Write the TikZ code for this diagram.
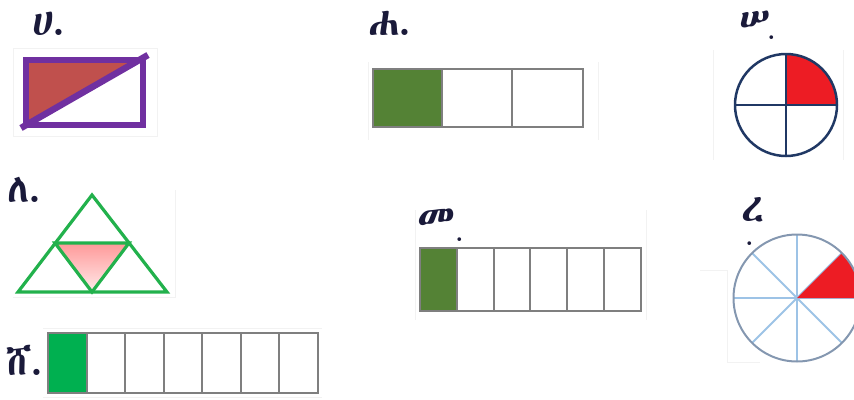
\documentclass[tikz,border=0pt]{standalone}
\usepackage{fontspec}
\IfFontExistsTF{Abyssinica SIL}{\newfontfamily\ethfont{Abyssinica SIL}}{%
  \IfFontExistsTF{FreeSerif}{\newfontfamily\ethfont{FreeSerif}}{\newfontfamily\ethfont{DejaVu Sans}}}
\definecolor{purp}{HTML}{7030A0}
\definecolor{brick}{HTML}{C0504D}
\definecolor{dkgreen}{HTML}{548235}
\definecolor{brgreen}{HTML}{00B050}
\definecolor{trigreen}{HTML}{22B14C}
\definecolor{barline}{HTML}{7F7F7F}
\definecolor{navy}{HTML}{203864}
\definecolor{redq}{HTML}{ED1C24}
\definecolor{rimblue}{HTML}{8497B0}
\definecolor{spoke}{HTML}{9DC3E6}
\definecolor{faint}{HTML}{F2F2F2}
\definecolor{ink}{HTML}{1A1A3A}
\tikzset{
  lbl/.style={anchor=base west, inner sep=0pt, text depth=0pt, font=\ethfont\fontsize{40}{40}\selectfont, text=ink},
  dotl/.style={anchor=base west, inner sep=0pt, text depth=0pt, text height=4pt, font=\ethfont\fontsize{24}{24}\selectfont, text=ink},
  frame/.style={draw=faint, line width=1},
  barbox/.style={draw=barline, line width=2},
}
\begin{document}
\begin{tikzpicture}[x=1pt,y=-1pt]
\useasboundingbox (0,0) rectangle (854,399);
\clip (0,0) rectangle (854,399);
% faint image frames
\draw[frame] (13,48) rectangle (157,136);
\draw[frame] (368,62) -- (368,140) (598,62) -- (598,140);
\draw[frame] (713,50) -- (713,160) (843,50) -- (843,160);
\draw[frame] (175,190) -- (175,297) -- (13,297);
\draw[frame] (415,210) -- (415,320) (646,210) -- (646,320);
\draw[frame] (700,270) -- (727,270) -- (727,362) -- (760,362);
\draw[frame] (43,328) -- (322,328) (43,397) -- (322,397);
% labels
\node[lbl] (la) at (32,35) {ሀ.};
\node[lbl] (lb) at (368,35) {ሐ.};
\node[lbl] (lc) at (739,32) {ሠ};
\node[dotl] (lcd) at (768,39) {.};
\node[lbl] (ld) at (7,202) {ለ.};
\node[lbl] (le) at (417,231) {መ};
\node[dotl] (led) at (456,241) {.};
\node[lbl] (lf) at (741,221) {\makebox[0pt][l]{\raisebox{-24pt}{\hspace{5pt}\fontsize{24}{24}\selectfont .}}ረ};
\node[lbl] (lg) at (6,375) {ሸ.};
% A: rectangle with diagonal
\fill[brick] (26,60) -- (139,60) -- (26,125) -- cycle;
\draw[purp, line width=6.5] (26,60) rectangle (143,125);
\draw[purp, line width=6.5] (21,128) -- (148,55);
% B: bar of 3
\fill[dkgreen] (373,69) rectangle (442,127);
\draw[barbox] (373,69) rectangle (583,127);
\foreach \x in {442,512} \draw[barbox] (\x,69) -- (\x,127);
% C: circle quarters
\fill[redq] (786,105) -- (837,105) arc[start angle=0, end angle=-90, radius=51] -- cycle;
\draw[navy, line width=2.5] (786,105) circle[radius=51];
\draw[navy, line width=2.5] (735,105) -- (837,105) (786,54) -- (786,156);
% D: triangle
\shade[top color=red!40, bottom color=red!8] (55,243) -- (129,243) -- (92,292) -- cycle;
\draw[trigreen, line width=3.2, line join=miter] (92,195) -- (18,292) -- (167,292) -- cycle;
\draw[trigreen, line width=3.2] (55,243) -- (129,243) -- (92,292) -- cycle;
% E: bar of 6
\fill[dkgreen] (420,248) rectangle (456.8,311);
\draw[barbox] (420,248) rectangle (641,311);
\foreach \i in {1,...,5} \draw[barbox] ({420+\i*36.83},248) -- ({420+\i*36.83},311);
% F: circle eighths
\foreach \a in {0,45,...,315} \draw[spoke, line width=2] (797,298) -- ++(\a:63);
\fill[redq] (797,298) -- (860,298) arc[start angle=0, end angle=-45, radius=63] -- cycle;
\draw[rimblue, line width=2] (797,298) circle[radius=63.5];
% G: bar of 7
\fill[brgreen] (48,333) rectangle (86.6,393);
\draw[barbox] (48,333) rectangle (318,393);
\foreach \i in {1,...,6} \draw[barbox] ({48+\i*38.57},333) -- ({48+\i*38.57},393);
\end{tikzpicture}
\end{document}
